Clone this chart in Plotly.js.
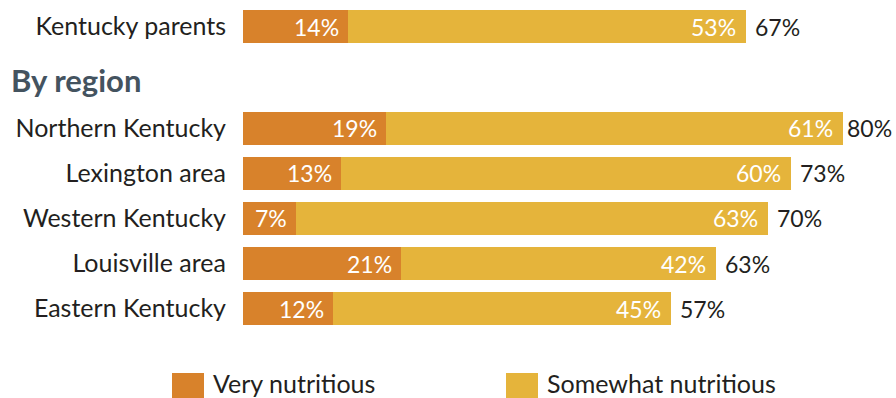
<!DOCTYPE html>
<html>
<head>
<meta charset="utf-8">
<script src="https://cdn.plot.ly/plotly-3.0.1.min.js"></script>
<style>html,body{margin:0;padding:0;background:#fff}#chart{width:896px;height:398px}</style>
</head>
<body>
<div id="chart"></div>
<script>
// Data
var overallCategory = ["Kentucky parents"];
var overallVery = [14];
var overallSomewhat = [53];

var regionCategories = ["Northern Kentucky", "Lexington area", "Western Kentucky", "Louisville area", "Eastern Kentucky"];
var regionVery = [19, 13, 7, 21, 12];
var regionSomewhat = [61, 60, 63, 42, 45];

var seriesNames = ["Very nutritious", "Somewhat nutritious"];
var seriesColors = ["#D8822B", "#E5B43B"];
var sectionTitle = "By region";

var FONT = "Lato, 'Open Sans', sans-serif";
var TXT = "#231f20";

var W = 896, H = 398, L = 243, PW = W - L, PXPER = 7.5;
function px(x) { return (x - L) / PW; }
function py(y) { return 1 - y / H; }

function bar(cats, vals, name, color, yax) {
  return {
    type: "bar", orientation: "h", x: vals, y: cats, name: name,
    marker: {color: color, line: {width: 0}},
    xaxis: "x", yaxis: yax, hoverinfo: "skip", showlegend: false
  };
}

var traces = [
  bar(overallCategory, overallVery, seriesNames[0], seriesColors[0], "y"),
  bar(overallCategory, overallSomewhat, seriesNames[1], seriesColors[1], "y"),
  bar(regionCategories, regionVery, seriesNames[0], seriesColors[0], "y2"),
  bar(regionCategories, regionSomewhat, seriesNames[1], seriesColors[1], "y2")
];

var annotations = [];
function addLabels(cats, very, some, yref) {
  cats.forEach(function (c, i) {
    var tot = very[i] + some[i];
    // room left to the right edge after the bar end (approx label box width)
    var room = W - (L + tot * PXPER) - 52;
    var shift = Math.max(2, Math.min(7, room));
    annotations.push({x: very[i], y: c, xref: "x", yref: yref, text: very[i] + "%",
      showarrow: false, xanchor: "right", xshift: -7, font: {family: FONT, size: 23, color: "#ffffff"}});
    annotations.push({x: tot, y: c, xref: "x", yref: yref, text: some[i] + "%",
      showarrow: false, xanchor: "right", xshift: -8, font: {family: FONT, size: 23, color: "#ffffff"}});
    annotations.push({x: tot, y: c, xref: "x", yref: yref, text: tot + "%",
      showarrow: false, xanchor: "left", xshift: shift, font: {family: FONT, size: 23, color: TXT}});
  });
}
addLabels(overallCategory, overallVery, overallSomewhat, "y");
addLabels(regionCategories, regionVery, regionSomewhat, "y2");

annotations.push({xref: "paper", yref: "paper", x: px(9), y: py(80), xanchor: "left", yanchor: "middle",
  text: "<b>" + sectionTitle + "</b>", showarrow: false, font: {family: FONT, size: 31, color: "#44535f"}});

var shapes = [];
var legendX = [172, 506];
seriesNames.forEach(function (n, i) {
  shapes.push({type: "rect", xref: "paper", yref: "paper", x0: px(legendX[i]), x1: px(legendX[i] + 32),
    y0: py(373), y1: py(410), fillcolor: seriesColors[i], line: {width: 0}, layer: "above"});
  annotations.push({xref: "paper", yref: "paper", x: px(legendX[i] + 39), y: py(366), xanchor: "left", yanchor: "top",
    text: n, showarrow: false, font: {family: FONT, size: 25, color: TXT}});
});

var layout = {
  width: W, height: H,
  margin: {l: L, r: 0, t: 0, b: 0, autoexpand: false},
  paper_bgcolor: "#ffffff", plot_bgcolor: "#ffffff",
  barmode: "stack", bargap: 12 / 45,
  showlegend: false,
  xaxis: {range: [0, PW / PXPER], visible: false, fixedrange: true},
  yaxis: {domain: [py(49), py(4)], type: "category", autorange: "reversed", showgrid: false, zeroline: false,
    showline: false, ticks: "", ticklabelstandoff: 16, tickfont: {family: FONT, size: 25, color: TXT}, anchor: "x"},
  yaxis2: {domain: [py(331), py(106)], type: "category", autorange: "reversed", showgrid: false, zeroline: false,
    showline: false, ticks: "", ticklabelstandoff: 16, tickfont: {family: FONT, size: 25, color: TXT}, anchor: "x"},
  annotations: annotations,
  shapes: shapes,
  font: {family: FONT}
};

Plotly.newPlot("chart", traces, layout, {staticPlot: true, displayModeBar: false});
</script>
</body>
</html>
